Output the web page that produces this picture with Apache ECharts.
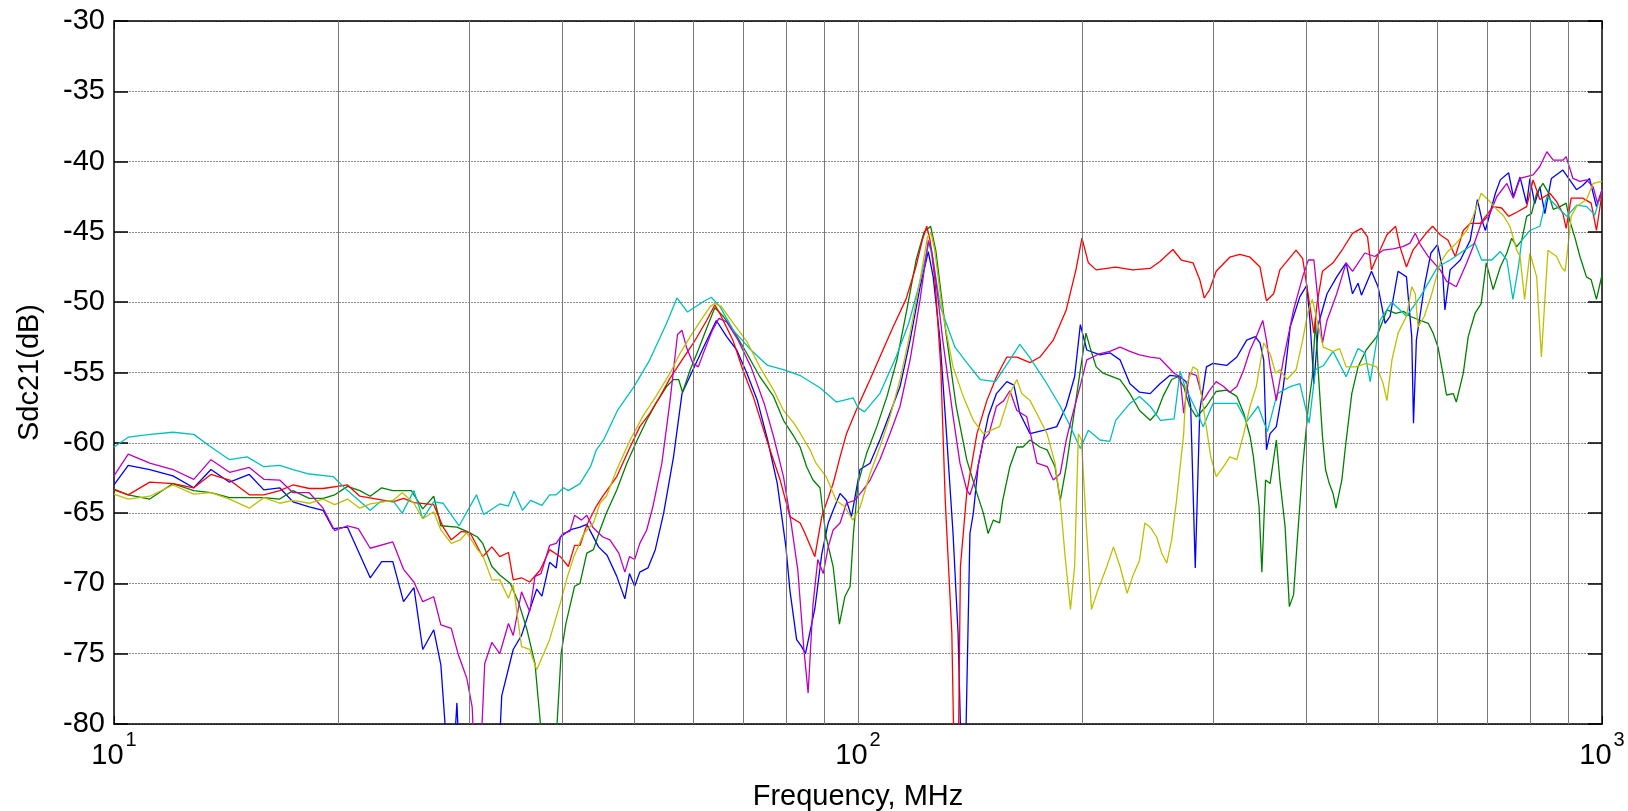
<!DOCTYPE html>
<html>
<head>
<meta charset="utf-8">
<script src="https://cdn.jsdelivr.net/npm/echarts@6/dist/echarts.min.js"></script>
<style>
  html, body { margin: 0; padding: 0; background: #fff; }
  #chart { width: 1628px; height: 811px; }
</style>
</head>
<body>
<div id="chart"></div>
<script>
// y range and grid positions
var yMin = -80, yMax = -30, yStep = 5;
var xMin = 10, xMax = 1000;
// vertical grid lines (MHz)
var gridFreqs = [20, 30, 40, 50, 60, 70, 80, 90, 100, 200, 300, 400, 500, 600, 700, 800, 900];

// series values: [frequency MHz, Sdc21 dB]
var blueData = [[10,-63.0],[10.45,-61.6],[11.17,-61.9],[12,-62.35],[12.8,-63.2],[13.5,-61.9],[14.3,-62.8],[15.2,-62.25],[15.9,-63.35],[16.7,-63.2],[17.4,-64.2],[18.3,-64.55],[19.1,-64.8],[19.7,-66.1],[20.6,-66.0],[22.1,-69.6],[22.9,-68.45],[23.7,-68.45],[24.5,-71.3],[25.3,-70.3],[26,-74.7],[26.9,-73.3],[27.5,-75.8],[27.9,-80.5],[28.5,-84],[28.9,-78.5],[29.2,-84],[32.8,-84],[33.2,-78],[34.4,-74.7],[35.3,-73.7],[36.2,-71.9],[37,-70.4],[37.6,-70.9],[38.5,-68.5],[39.3,-68.9],[39.8,-66.7],[41,-66.2],[42.3,-66.0],[43.2,-65.8],[44.8,-67.4],[46,-68.0],[47.4,-69.5],[48.6,-71.1],[49.3,-69.3],[50.1,-70.2],[50.9,-69.2],[52.2,-68.9],[53.4,-67.6],[54.8,-65.0],[56.5,-61.0],[58,-56.5],[60,-54.8],[62,-53.2],[64.5,-51.3],[66.6,-52.45],[68.7,-53.4],[70.9,-55.05],[73.2,-56.95],[75.6,-59.8],[77.9,-62.9],[80,-67.4],[81,-70.5],[82.7,-74.0],[84,-74.5],[85,-75.0],[87.5,-71.8],[89.4,-67.9],[91.2,-65.7],[92.6,-64.8],[94.6,-63.6],[96.5,-64.1],[98,-65.25],[100.6,-61.9],[103.8,-61.45],[107,-59.8],[110.4,-57.9],[113.9,-56.0],[117.5,-52.7],[121.2,-48.9],[124.3,-46.4],[126.2,-48.2],[128.9,-52.7],[131.5,-59.35],[134.2,-66.45],[136.3,-73.55],[137.6,-82],[139.5,-82],[141.4,-66.45],[142.9,-65.0],[145,-61.7],[147.4,-59.8],[149.7,-58.1],[153.5,-56.5],[158.5,-55.65],[162,-55.9],[165,-57.9],[170.3,-59.35],[178,-59.1],[185,-58.85],[190.5,-57.4],[195.5,-55.3],[199,-51.6],[203,-53.4],[211.5,-53.75],[218,-53.6],[225,-54.1],[232,-55.8],[239,-56.4],[247,-56.5],[254.6,-55.8],[262.7,-55.2],[271,-55.3],[276,-55.65],[280,-57.4],[284,-68.9],[288,-57.7],[294,-54.6],[300,-54.35],[313,-54.5],[323,-53.9],[333,-52.7],[342,-52.45],[347,-52.9],[351,-54.1],[354,-60.5],[358,-59.35],[365,-58.85],[373,-56.0],[381,-51.75],[392.6,-49.6],[401,-48.8],[405,-51.3],[410,-55.8],[416,-51.5],[427,-49.4],[440,-48.2],[453,-47.2],[462,-49.4],[470,-48.65],[475,-49.5],[490,-47.8],[500,-48.9],[511,-51.5],[519,-51.0],[532,-47.8],[546,-48.2],[555,-52.45],[558,-58.6],[563,-52.7],[577,-48.9],[589,-46.5],[601,-45.9],[610,-47.5],[615,-50.55],[625,-47.7],[645,-47.0],[665,-45.6],[680,-42.7],[690,-44.2],[697,-44.9],[719,-42.25],[730,-41.3],[749,-40.8],[760,-42.5],[776,-41.1],[792,-43.0],[800,-41.2],[812,-43.0],[825,-41.8],[838,-43.7],[855,-41.2],[886,-40.6],[905,-41.3],[924,-42.0],[942,-41.7],[962,-41.2],[983,-43.2],[1000,-42.25]];

var greenData = [[10,-63.3],[10.45,-63.7],[11.17,-64.0],[12,-62.9],[12.8,-63.4],[13.5,-63.55],[14.3,-63.9],[15.2,-63.9],[15.9,-63.9],[16.7,-64.0],[17.4,-63.4],[18.3,-63.95],[19.1,-63.95],[19.8,-63.7],[20.6,-63.1],[21.4,-63.4],[22.1,-63.8],[22.9,-63.2],[23.7,-63.4],[25.1,-63.4],[26,-64.7],[26.9,-63.8],[27.5,-65.9],[28.9,-66.0],[29.8,-66.3],[30.8,-66.7],[31.3,-67.15],[32.2,-68.8],[33,-69.4],[34.1,-70.0],[35,-71.4],[35.9,-73.3],[36.8,-75.7],[37.5,-80.5],[38,-84],[39,-84],[39.4,-80],[39.9,-75.0],[40.5,-72.85],[41.6,-70.2],[42.3,-70.0],[43.2,-67.85],[44.1,-67.6],[45,-66.2],[45.9,-65.0],[47.4,-63.35],[48.9,-61.45],[50.5,-59.8],[52,-58.4],[53.5,-57.2],[55.3,-56.0],[56.5,-55.5],[57.4,-55.5],[58.1,-56.4],[59.5,-54.8],[61,-53.4],[62.6,-51.85],[64.2,-50.4],[65.9,-51.0],[68,-52.0],[70.9,-53.65],[73.8,-55.3],[77,-56.7],[79.4,-58.4],[82,-59.55],[83.6,-60.3],[85.3,-61.7],[87,-62.65],[88.9,-63.2],[90.6,-66.7],[92.6,-68.8],[94.4,-72.9],[96,-70.95],[97.6,-70.2],[98.6,-66.45],[100,-62.9],[102.7,-60.75],[106,-58.85],[109.4,-56.7],[112.8,-54.1],[116.3,-50.55],[119.7,-47.0],[122.7,-45.0],[125.2,-44.6],[127.2,-46.3],[131.3,-52.2],[135.5,-57.4],[140,-61.2],[144.5,-63.6],[147.4,-65.0],[149.6,-66.45],[152,-65.5],[155,-65.7],[156.5,-64.1],[160,-61.7],[163.5,-60.3],[166.6,-60.3],[170.3,-59.8],[175.6,-60.3],[179.5,-60.5],[184,-61.7],[187,-64.1],[190.5,-61.7],[194,-58.85],[198.7,-55.05],[202.5,-52.2],[205,-53.2],[209,-54.6],[213.5,-55.05],[225,-55.5],[232,-56.5],[239,-57.7],[247,-58.4],[252,-57.9],[257,-56.7],[264,-55.5],[269,-55.3],[274,-56.0],[279,-57.4],[285,-58.15],[294,-57.4],[303,-56.35],[313,-56.25],[323,-56.7],[330,-57.9],[336.5,-59.55],[340,-61.0],[346,-64.55],[349,-69.2],[353,-62.65],[358,-62.9],[365,-59.8],[369,-62.65],[375,-65.95],[380,-71.65],[385,-70.8],[390,-66.45],[396,-61.7],[403,-57.4],[408,-55.3],[412,-51.3],[416,-55.3],[421,-59.55],[425,-61.9],[430,-62.9],[435,-63.6],[439,-64.65],[447,-62.65],[452,-60.3],[461,-56.5],[470,-54.6],[482,-53.4],[498,-52.45],[514,-50.55],[528,-50.8],[541,-50.65],[552,-51.0],[570,-51.3],[584,-51.5],[593,-52.2],[602,-53.2],[611,-55.05],[618,-56.6],[631,-56.5],[637,-57.1],[651,-55.05],[661,-52.45],[675,-50.8],[688,-50.1],[699,-47.2],[714,-49.1],[730,-47.5],[745,-46.5],[756,-45.45],[768,-46.05],[780,-45.6],[792,-43.9],[804,-43.7],[817,-42.25],[833,-41.55],[846,-42.15],[860,-43.4],[878,-43.2],[895,-42.95],[905,-44.2],[919,-45.35],[934,-46.75],[953,-48.2],[967,-48.4],[983,-49.8],[1000,-48.05]];

var redData = [[10,-63.35],[10.45,-63.7],[11.17,-62.8],[12,-62.9],[12.8,-63.2],[13.5,-62.25],[14.3,-62.65],[15.2,-63.7],[15.9,-63.7],[16.7,-63.4],[17.4,-63.0],[18.3,-63.25],[19.1,-63.25],[20.6,-63.0],[21.4,-63.8],[23.7,-64.2],[24.5,-63.95],[25.3,-64.25],[26.9,-64.4],[27.7,-66.0],[28.4,-66.9],[29.3,-66.3],[30.1,-66.4],[31.3,-68.1],[32.2,-67.4],[33,-68.1],[33.9,-67.8],[34.4,-69.75],[35.3,-69.6],[36.2,-69.9],[37.4,-69.05],[38.5,-67.6],[39.8,-68.1],[40.8,-68.8],[41.6,-67.3],[42.3,-67.3],[43.2,-65.85],[44.5,-64.5],[45.4,-63.8],[47.4,-62.4],[49.4,-60.3],[50.9,-58.85],[52.5,-57.9],[54.2,-56.7],[55.9,-55.4],[57.7,-54.3],[60.1,-52.9],[62.6,-51.3],[64.2,-50.2],[65.2,-50.8],[67.9,-52.7],[70,-54.8],[72.3,-56.7],[75.4,-59.8],[78.6,-62.65],[81,-65.25],[83.6,-65.7],[84.8,-66.4],[87.5,-68.1],[89.4,-65.25],[92.6,-62.9],[94.6,-61.0],[96.5,-59.35],[99.6,-57.6],[103.8,-55.5],[107,-53.9],[111.5,-51.75],[116,-49.8],[119.6,-47.5],[122,-45.6],[123.7,-44.6],[125,-45.6],[127,-48.65],[129.2,-54.6],[131,-64.1],[133.7,-73.55],[134.8,-84],[136.3,-84],[137.3,-68.8],[140,-63.6],[144.5,-59.35],[149,-57.0],[153.5,-55.3],[158.5,-53.9],[163.5,-53.9],[170.3,-54.3],[175.6,-53.9],[183,-52.7],[190.5,-50.55],[196.3,-47.7],[200,-45.45],[204,-47.2],[209,-47.7],[222,-47.5],[234,-47.7],[247,-47.6],[254.6,-47.1],[265,-46.25],[272,-47.0],[282,-47.2],[288,-48.4],[292,-49.7],[297,-49.1],[303,-47.8],[316,-46.8],[326,-46.6],[336.5,-46.8],[347,-47.5],[351,-48.9],[354,-49.9],[362,-49.4],[369,-47.7],[388,-46.3],[396,-46.9],[405,-50.3],[410,-52.2],[414,-50.1],[421,-47.8],[435,-47.2],[448.5,-46.2],[462,-45.1],[475,-44.75],[484,-45.35],[490,-47.7],[500,-46.6],[514,-45.2],[528,-44.6],[535,-46.05],[546,-47.5],[557,-46.3],[580,-45.1],[592,-44.6],[606,-45.2],[621,-45.6],[635,-46.75],[651,-44.9],[665,-44.4],[686,-44.4],[714,-43.2],[733,-43.3],[749,-43.9],[768,-43.6],[792,-43.2],[808,-41.3],[825,-42.7],[851,-42.25],[869,-42.85],[886,-43.7],[895,-44.75],[909,-42.6],[942,-42.6],[967,-42.95],[983,-44.9],[1000,-42.25]];

var cyanData = [[10,-60.3],[10.45,-59.6],[11.2,-59.4],[12,-59.25],[12.8,-59.4],[13.5,-60.3],[14.3,-61.2],[15.1,-61.0],[15.9,-61.7],[16.7,-61.6],[17.4,-61.9],[18.2,-62.2],[19.7,-62.4],[20.6,-63.4],[22.1,-64.8],[22.8,-64.2],[23.7,-64.1],[24.4,-65.0],[25.3,-63.4],[26.0,-65.4],[26.9,-64.2],[27.7,-64.3],[29.1,-65.9],[30.7,-63.7],[31.4,-65.1],[33.0,-64.35],[33.9,-64.5],[34.5,-63.45],[35.4,-64.8],[36.3,-64.1],[37.6,-64.45],[38.5,-63.7],[39.3,-63.7],[40.2,-63.2],[40.8,-63.4],[42.3,-62.9],[43.7,-61.7],[44.5,-60.5],[45.5,-59.8],[47.5,-57.7],[50,-56.0],[52.5,-54.1],[55.3,-51.5],[57.1,-49.7],[59.0,-50.7],[62,-49.95],[63.5,-49.65],[65.2,-50.3],[68,-52.0],[71.8,-53.4],[75.6,-54.5],[79.4,-54.8],[83.5,-55.2],[89,-56.1],[93.5,-57.1],[98.5,-56.8],[100,-57.5],[102,-57.8],[107,-56.5],[112.5,-53.9],[117,-51.5],[121,-48.65],[124.5,-45.8],[126,-46.8],[129,-50.3],[135,-53.2],[140,-54.3],[146,-55.5],[153,-55.65],[160,-54.1],[165,-53.0],[170,-53.9],[178,-55.5],[187,-57.4],[193,-58.85],[199,-60.4],[204,-59.1],[211.5,-59.8],[218,-59.9],[222,-58.4],[232,-57.2],[239,-56.7],[247,-57.4],[255,-58.4],[266,-58.3],[271,-54.9],[275,-56.0],[285,-57.7],[291,-58.85],[300,-57.2],[312,-57.2],[323,-57.2],[333,-58.5],[345,-57.4],[355,-59.2],[366,-56.5],[381,-56.0],[392.6,-55.8],[404,-58.6],[412,-54.8],[422.5,-54.5],[435,-53.5],[453,-55.3],[470,-53.3],[480,-53.6],[488,-55.65],[503,-51.3],[522,-50.0],[546,-51.0],[570,-49.6],[601,-47.5],[625,-47.0],[645,-46.5],[675,-45.8],[689,-47.0],[711,-47.0],[730,-46.4],[745,-47.0],[759,-49.8],[772,-47.5],[780,-45.6],[800,-44.9],[825,-44.6],[843,-42.5],[870,-43.2],[897,-43.9],[925,-43.1],[954,-43.2],[978,-43.8],[1000,-42.0]];

var magentaData = [[10,-62.35],[10.45,-60.8],[11.17,-61.45],[12,-61.9],[12.8,-62.6],[13.5,-61.2],[14.3,-62.1],[15.2,-61.75],[15.9,-62.6],[16.7,-62.65],[17.4,-63.55],[18.3,-63.55],[19.1,-64.65],[19.8,-66.25],[20.6,-65.9],[21.3,-66.1],[22.1,-67.5],[23.7,-67.05],[24.5,-69.0],[25.3,-69.9],[26,-71.3],[26.9,-70.95],[27.5,-72.95],[28.4,-73.2],[29,-75.0],[29.8,-76.75],[30.3,-78.8],[30.6,-84],[31,-84],[31.5,-75.7],[32.2,-74.2],[33,-75.0],[33.9,-72.85],[34.4,-73.7],[35.3,-70.6],[36.2,-72.0],[36.8,-69.5],[37.5,-69.3],[38.5,-67.3],[39.3,-67.15],[40.1,-66.45],[41,-66.3],[41.6,-65.15],[42.5,-65.5],[43.2,-65.15],[44,-66.0],[45.4,-66.7],[46.4,-66.9],[47.7,-67.85],[48.6,-69.2],[49.3,-68.1],[50.1,-68.3],[50.9,-67.15],[52,-66.2],[53,-64.55],[54.5,-61.45],[55.9,-57.0],[57.2,-52.3],[58,-52.0],[58.8,-53.2],[60,-54.35],[61,-54.6],[62.2,-53.4],[63.6,-52.1],[65,-51.15],[66.6,-51.4],[69,-52.7],[71.8,-54.6],[74.8,-57.2],[77,-59.55],[79.4,-62.4],[81.3,-65.7],[83,-69.05],[84.6,-74.75],[85.7,-77.8],[87,-71.5],[88.3,-68.3],[89.8,-69.3],[91.2,-67.4],[92.6,-66.2],[94.6,-65.7],[96.5,-64.3],[99,-64.1],[101.6,-63.35],[103.8,-62.65],[107,-61.2],[110.4,-59.35],[113.9,-57.4],[117.5,-54.1],[121.2,-49.8],[124.3,-45.6],[125.6,-46.3],[127.4,-48.65],[130,-52.7],[134.2,-58.1],[137.1,-61.45],[140,-63.35],[141.4,-63.7],[144,-62.4],[147.4,-59.8],[150,-59.35],[153.5,-57.4],[157,-57.0],[160,-56.3],[163.5,-57.7],[168.6,-58.15],[174,-61.45],[179.7,-61.7],[183,-62.65],[187,-62.2],[190.5,-59.8],[194,-58.1],[198.8,-56.0],[203,-54.1],[211.5,-53.65],[218,-53.5],[225,-53.2],[232,-53.5],[239,-53.75],[247,-53.9],[254.6,-54.0],[266,-55.05],[271,-55.3],[274,-57.9],[279,-55.05],[285,-55.2],[291,-57.0],[297,-56.25],[303,-55.65],[310,-56.0],[316,-56.4],[323,-56.0],[330,-54.8],[336.5,-53.4],[343,-52.45],[350,-51.3],[354,-52.7],[358,-54.6],[365,-57.0],[373,-54.1],[385,-50.55],[396,-48.2],[403,-47.0],[410,-47.0],[416,-50.3],[421,-52.9],[427,-51.3],[440,-49.4],[453,-47.2],[462,-47.8],[480,-46.5],[495,-46.75],[508,-46.3],[524,-46.2],[540,-46.05],[552,-45.8],[561,-45.1],[570,-45.9],[584,-46.75],[606,-47.7],[618,-48.5],[637,-48.9],[658,-47.2],[671,-46.05],[688,-44.4],[707,-43.7],[722,-42.5],[745,-41.55],[760,-42.6],[776,-41.2],[808,-40.95],[825,-40.35],[843,-39.3],[860,-39.9],[886,-39.9],[895,-39.65],[914,-41.2],[934,-41.4],[953,-41.3],[973,-41.8],[986,-42.95],[1000,-42.0]];

var yellowData = [[10,-63.65],[10.45,-64.0],[11.17,-63.8],[12,-63.0],[12.8,-63.65],[13.5,-63.55],[14.3,-64.0],[15.2,-64.65],[15.9,-63.9],[16.7,-64.3],[17.4,-64.1],[18.3,-64.3],[19.1,-64.0],[19.8,-64.4],[20.6,-64.0],[21.4,-64.65],[22.1,-64.35],[23,-64.2],[23.7,-64.1],[24.4,-63.55],[25.3,-64.3],[26,-65.4],[26.9,-64.9],[27.5,-66.2],[28.4,-67.15],[29.2,-66.9],[29.8,-66.4],[30.8,-67.6],[31.3,-68.0],[32.2,-69.75],[33,-69.75],[33.9,-71.05],[34.4,-70.1],[35.3,-74.5],[36.2,-74.7],[37,-76.15],[38.5,-74.0],[39.8,-71.4],[40.7,-69.5],[41.5,-68.1],[42.8,-66.45],[44.1,-65.7],[45,-64.3],[45.9,-63.8],[47.4,-61.9],[49.4,-59.8],[51.4,-58.1],[53.5,-56.7],[55.9,-55.05],[57.7,-53.6],[59.5,-52.45],[61.3,-51.4],[63.3,-50.3],[64.2,-50.1],[65.5,-50.3],[68,-51.5],[70.9,-52.8],[73.8,-54.6],[77,-56.25],[79.4,-57.7],[82,-58.6],[83.6,-59.3],[86.2,-60.5],[87.8,-61.45],[90.6,-62.4],[93.5,-64.1],[96,-64.55],[98.4,-65.5],[100.6,-64.6],[103.8,-62.2],[107,-60.3],[110.4,-58.15],[113.9,-55.5],[117.5,-52.2],[121.2,-48.4],[124,-45.35],[125.4,-45.1],[126.8,-46.3],[130,-50.8],[134.2,-54.6],[138.5,-56.7],[142.9,-58.4],[147.4,-59.35],[151,-59.1],[155,-58.85],[160,-56.5],[163.5,-55.5],[166,-56.5],[170.3,-57.0],[174.8,-58.15],[179.5,-59.35],[184,-61.45],[187,-64.1],[190,-68.3],[193,-71.85],[195.5,-68.8],[197.8,-59.35],[199.7,-59.8],[203,-66.45],[206,-71.85],[210,-70.5],[216,-68.8],[220.5,-67.4],[225,-68.8],[230,-70.7],[234,-69.5],[239,-68.35],[243,-65.7],[247,-66.0],[252,-66.7],[256,-67.85],[260,-68.55],[264,-66.9],[268,-64.1],[274,-59.35],[276,-56.0],[282,-54.6],[286,-54.8],[291,-57.4],[298,-61.0],[303,-62.4],[310,-61.7],[316,-61.0],[323,-61.2],[330,-59.35],[336.5,-57.4],[343,-56.0],[351,-52.9],[358,-53.65],[364,-55.05],[369,-54.8],[377,-55.5],[388,-54.8],[396,-52.7],[403,-50.55],[408,-49.8],[414,-51.3],[422,-53.2],[435,-53.5],[444,-53.3],[453,-54.6],[467,-54.6],[482,-54.35],[498,-54.6],[508,-55.8],[514,-57.0],[522,-54.1],[532,-52.2],[546,-51.0],[555,-48.9],[561,-49.4],[566,-51.75],[577,-51.0],[589,-49.6],[606,-47.2],[618,-46.5],[637,-45.8],[658,-44.9],[671,-43.9],[688,-42.25],[707,-42.85],[722,-43.4],[736,-43.8],[752,-44.6],[768,-46.3],[776,-46.75],[787,-49.8],[800,-46.5],[817,-48.2],[829,-53.9],[838,-49.8],[846,-46.3],[869,-46.75],[882,-47.5],[892,-47.8],[900,-46.05],[909,-43.9],[924,-43.2],[953,-42.7],[973,-41.55],[1000,-41.4]];

var lines = [
    {name: 'b', color: '#0000ff', data: blueData},
    {name: 'g', color: '#008000', data: greenData},
    {name: 'r', color: '#ff0000', data: redData},
    {name: 'c', color: '#00bfbf', data: cyanData},
    {name: 'm', color: '#bf00bf', data: magentaData},
    {name: 'y', color: '#bfbf00', data: yellowData}
];

var FONT = 'Liberation Sans, Arial, sans-serif';
var chart = echarts.init(document.getElementById('chart'));

var series = [{
    // holder for the vertical grid lines
    type: 'line',
    data: [],
    z: 1,
    silent: true,
    markLine: {
        silent: true,
        symbol: ['none', 'none'],
        label: {show: false},
        animation: false,
        lineStyle: {color: '#7a7a7a', width: 1, type: 'solid'},
        data: gridFreqs.map(function (f) { return {xAxis: f}; })
    }
}];
lines.forEach(function (l) {
    series.push({
        name: l.name,
        type: 'line',
        data: l.data,
        z: 3,
        showSymbol: false,
        symbol: 'none',
        clip: true,
        lineStyle: {color: l.color, width: 1.3},
        itemStyle: {color: l.color}
    });
});

var frameLine = {show: true, onZero: false, lineStyle: {color: '#000', width: 1.5}};

var option = {
    animation: false,
    backgroundColor: '#ffffff',
    textStyle: {fontFamily: FONT},
    grid: {left: 114, right: 26, top: 21, bottom: 87, outerBoundsMode: 'none', containLabel: false},
    xAxis: [{
        type: 'log',
        logBase: 10,
        min: xMin,
        max: xMax,
        name: 'Frequency, MHz',
        nameLocation: 'middle',
        nameGap: 58,
        nameTextStyle: {fontSize: 29, color: '#000', fontFamily: FONT},
        axisLine: frameLine,
        axisTick: {inside: true, length: 8, lineStyle: {color: '#000'}},
        splitLine: {show: false},
        axisLabel: {
            margin: 6,
            color: '#000',
            formatter: function (v) {
                var e = Math.round(Math.log(v) / Math.LN10);
                return '{b|10}{s|' + e + '}';
            },
            rich: {
                b: {fontSize: 29, color: '#000', fontFamily: FONT, padding: [11, 0, 0, 0], verticalAlign: 'bottom'},
                s: {fontSize: 20, color: '#000', fontFamily: FONT, padding: [0, 0, 0, 2], verticalAlign: 'top'}
            }
        }
    }, {
        type: 'log',
        logBase: 10,
        min: xMin,
        max: xMax,
        position: 'top',
        axisLine: frameLine,
        axisTick: {inside: true, length: 8, lineStyle: {color: '#000'}},
        axisLabel: {show: false},
        splitLine: {show: false}
    }],
    yAxis: [{
        type: 'value',
        min: yMin,
        max: yMax,
        interval: yStep,
        name: 'Sdc21(dB)',
        nameLocation: 'middle',
        nameGap: 70,
        nameRotate: 90,
        nameTextStyle: {fontSize: 29, color: '#000', fontFamily: FONT},
        axisLine: frameLine,
        axisTick: {inside: true, length: 14, lineStyle: {color: '#000', width: 1.5}},
        axisLabel: {fontSize: 29, color: '#000', margin: 9, fontFamily: FONT},
        splitLine: {show: true, lineStyle: {color: '#8a8a8a', width: 1, type: [2, 1]}}
    }, {
        type: 'value',
        min: yMin,
        max: yMax,
        interval: yStep,
        position: 'right',
        axisLine: frameLine,
        axisTick: {inside: true, length: 14, lineStyle: {color: '#000', width: 1.5}},
        axisLabel: {show: false},
        splitLine: {show: false}
    }],
    series: series
};

chart.setOption(option);
</script>
</body>
</html>
